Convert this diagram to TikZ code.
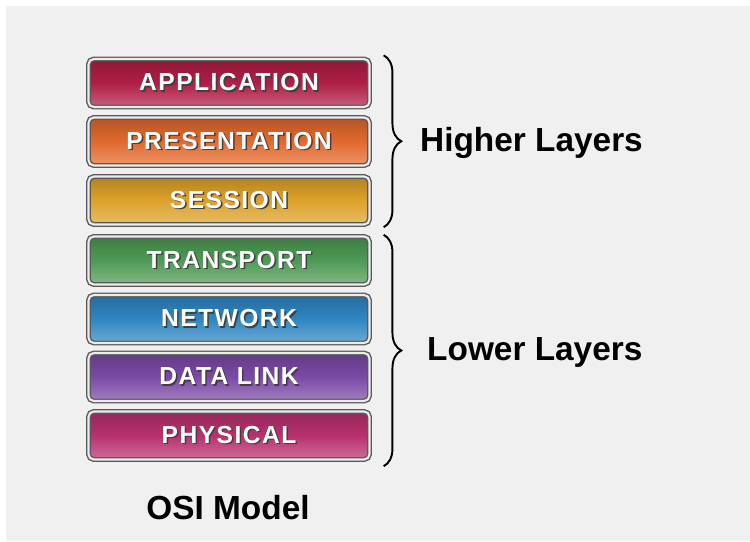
\documentclass[tikz,border=0pt]{standalone}
\usepackage{fontspec}
\setmainfont{Liberation Sans}
\newfontfamily\layerfont[LetterSpace=6]{Liberation Sans}
\usetikzlibrary{decorations.pathreplacing}

\definecolor{appcol}{HTML}{B01E45}
\definecolor{prescol}{HTML}{E2692E}
\definecolor{sesscol}{HTML}{DDA22A}
\definecolor{transcol}{HTML}{4E9A55}
\definecolor{netcol}{HTML}{2F86C3}
\definecolor{dlcol}{HTML}{7B4AA5}
\definecolor{phycol}{HTML}{B8316E}
\definecolor{bgcol}{HTML}{F0F0F0}

% white letters with a dark drop shadow
\newcommand{\shadowed}[1]{\rlap{\hspace{0.9pt}\raisebox{-0.9pt}{\color{black!75}#1}}#1}

\tikzset{
	layer/.style={draw=gray!70!black, line width=0.8pt, double=gray!15, double distance=1.2pt,
		rounded corners=3pt, minimum width=5.62cm, minimum height=0.96cm,
		top color=#1!80!black, bottom color=#1!70!white, middle color=#1,
		text=white, font=\layerfont\bfseries\fontsize{14}{16}\selectfont},
	brc/.style={decorate, decoration={brace, amplitude=10pt}, line width=1.1pt},
	lbl/.style={font=\bfseries\fontsize{19}{22}\selectfont}
}

\begin{document}
\begin{tikzpicture}[x=0.02cm,y=-0.02cm]%[scale=.8]
			\useasboundingbox (0,0) rectangle (750,541);
			\fill[white] (0,0) rectangle (750,541);
			\fill[bgcol] (6,6) rectangle (750,541);
			% the seven layers
			\node[layer=appcol]   at (229,83)    (app)   {\shadowed{APPLICATION}};
			\node[layer=prescol]  at (229,141.5) (pres)  {\shadowed{PRESENTATION}};
			\node[layer=sesscol]  at (229,200.5) (sess)  {\shadowed{SESSION}};
			\node[layer=transcol] at (229,260.5) (trans) {\shadowed{TRANSPORT}};
			\node[layer=netcol]   at (229,319)   (net)   {\shadowed{NETWORK}};
			\node[layer=dlcol]    at (229,377)   (dl)    {\shadowed{DATA LINK}};
			\node[layer=phycol]   at (229,435.5) (phy)   {\shadowed{PHYSICAL}};
			% braces
			\draw[brc] ([xshift=0.27cm,yshift=0.06cm]app.north east) -- ([xshift=0.27cm,yshift=-0.04cm]sess.south east);
			\draw[brc] ([xshift=0.27cm,yshift=0.02cm]trans.north east) -- ([xshift=0.27cm,yshift=-0.12cm]phy.south east);
			\node[lbl,anchor=west] at (414,143) (hi) {Higher Layers};
			\node[lbl,anchor=west] at (421,352) (lo) {Lower Layers};
			\node[lbl] at (228,508) (osi) {OSI Model};
		\end{tikzpicture}
\end{document}
